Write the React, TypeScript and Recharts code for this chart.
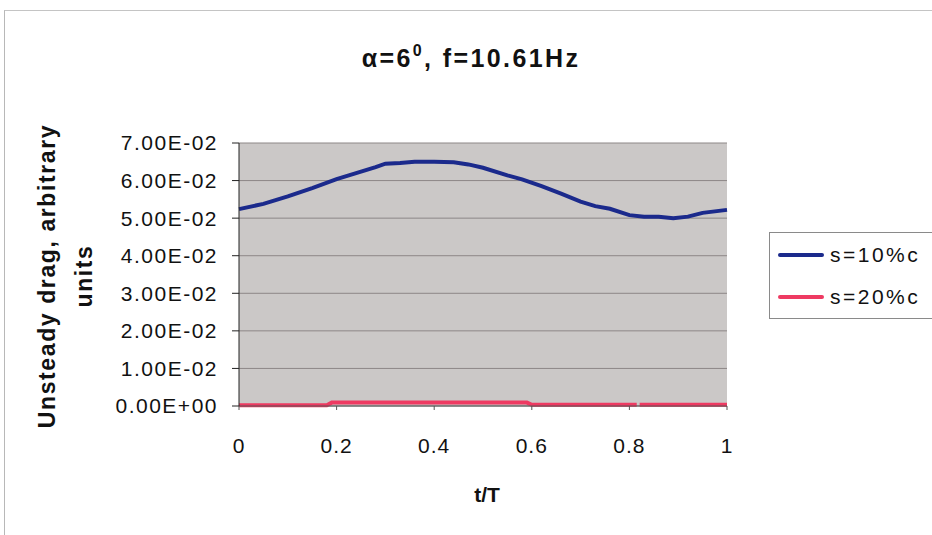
import { CartesianGrid, Line, LineChart, XAxis, YAxis } from "recharts";

const tBlue = [0, 0.05, 0.1, 0.15, 0.2, 0.25, 0.28, 0.3, 0.33, 0.36, 0.4, 0.44, 0.47, 0.5, 0.55, 0.58, 0.62, 0.66, 0.7, 0.73, 0.76, 0.8, 0.83, 0.86, 0.89, 0.92, 0.95, 1];
const dragS10 = [0.0524, 0.0538, 0.0558, 0.058, 0.0604, 0.0624, 0.0636, 0.0645, 0.0647, 0.065, 0.065, 0.0649, 0.0643, 0.0634, 0.0614, 0.0603, 0.0585, 0.0565, 0.0544, 0.0532, 0.0525, 0.0508, 0.0504, 0.0504, 0.05, 0.0504, 0.0514, 0.0522];

const tRed = [0, 0.18, 0.19, 0.59, 0.6, 0.815, 0.818, 0.821, 1];
const dragS20 = [0.0002, 0.0002, 0.0009, 0.0009, 0.0003, 0.0003, null, 0.0003, 0.0003];

const xTicks = [0, 0.2, 0.4, 0.6, 0.8, 1];
const yTicks = [0, 0.01, 0.02, 0.03, 0.04, 0.05, 0.06, 0.07];
const seriesNames = ["s=10%c", "s=20%c"];
const seriesColors = ["#1b2a8c", "#ee3a62"];

const blueData = tBlue.map((t, i) => ({ t, v: dragS10[i] }));
const redData = tRed.map((t, i) => ({ t, v: dragS20[i] }));

const font = "'Liberation Sans', Arial, sans-serif";

function LegendBox() {
  return (
    <div
      style={{
        position: "absolute",
        left: 769,
        top: 232,
        border: "1px solid #8a8a8a",
        background: "#fff",
        width: 170,
        height: 87,
        boxSizing: "border-box",
        fontFamily: font,
        fontSize: 21,
        letterSpacing: 2.5,
        color: "#111",
        paddingTop: 1,
      }}
    >
      {seriesNames.map((name, i) => (
        <div key={name} style={{ display: "flex", alignItems: "center", height: 42 }}>
          <span style={{ display: "inline-block", width: 46, height: 4, background: seriesColors[i], marginLeft: 8, marginRight: 6, borderRadius: 2 }} />
          <span>{name}</span>
        </div>
      ))}
    </div>
  );
}

function YLabel() {
  const cy = 276;
  return (
    <g fontFamily={font} fontWeight="bold" fontSize={23} fill="#111" letterSpacing={1.6}>
      <text x={55} y={cy} textAnchor="middle" transform={`rotate(-90, 55, ${cy})`}>
        Unsteady drag, arbitrary
      </text>
      <text x={92} y={cy} textAnchor="middle" transform={`rotate(-90, 92, ${cy})`}>
        units
      </text>
    </g>
  );
}

function XLabel(props: any) {
  const vb = props.viewBox || {};
  const cx = (vb.x ?? 239) + (vb.width ?? 488) / 2 + 4;
  return (
    <text x={cx} y={502} textAnchor="middle" fontFamily={font} fontWeight="bold" fontSize={21} fill="#111">
      t/T
    </text>
  );
}

export default function App() {
  return (
    <div style={{ position: "absolute", left: 0, top: 0, width: 932, height: 535, background: "#fff", overflow: "hidden" }}>
      <div style={{ position: "absolute", left: 4, top: 10, right: 0, bottom: 0, borderTop: "1px solid #c4c4c4", borderLeft: "1px solid #b8b8b8" }} />
      <div
        style={{
          position: "absolute",
          left: 0,
          width: 942,
          top: 42,
          textAlign: "center",
          fontFamily: font,
          fontWeight: "bold",
          fontSize: 25,
          letterSpacing: 2.4,
          color: "#111",
        }}
      >
        α=6<sup style={{ fontSize: 16, verticalAlign: "11px" }}>0</sup>, f=10.61Hz
      </div>
      <LineChart
        width={932}
        height={535}
        margin={{ top: 143, right: 205, left: 0, bottom: 0 }}
        style={{ position: "absolute", left: 0, top: 0 }}
      >
        <CartesianGrid vertical={false} stroke="#8d8787" fill="#cbc8c7" />
        <XAxis
          dataKey="t"
          type="number"
          domain={[0, 1]}
          ticks={xTicks}
          interval={0}
          height={129}
          tickSize={4}
          tickMargin={28}
          stroke="#555"
          tick={{ fill: "#111", fontFamily: font, fontSize: 21, letterSpacing: 1 }}
          allowDuplicatedCategory={false}
          label={<XLabel />}
        />
        <YAxis
          type="number"
          domain={[0, 0.07]}
          ticks={yTicks}
          interval={0}
          width={239}
          tickSize={7}
          tickMargin={14}
          stroke="#222"
          tick={{ fill: "#111", fontFamily: font, fontSize: 21, letterSpacing: 1.5 }}
          tickFormatter={(v: number) => v.toExponential(2).replace(/e([+-])(\d)$/, "E$10$2").toUpperCase()}
          label={<YLabel />}
        />
        <Line data={blueData} dataKey="v" name={seriesNames[0]} stroke={seriesColors[0]} strokeWidth={4} dot={false} type="linear" isAnimationActive={false} />
        <Line data={redData} dataKey="v" name={seriesNames[1]} stroke={seriesColors[1]} strokeWidth={4} dot={false} type="linear" isAnimationActive={false} />
      </LineChart>
      <LegendBox />
    </div>
  );
}
